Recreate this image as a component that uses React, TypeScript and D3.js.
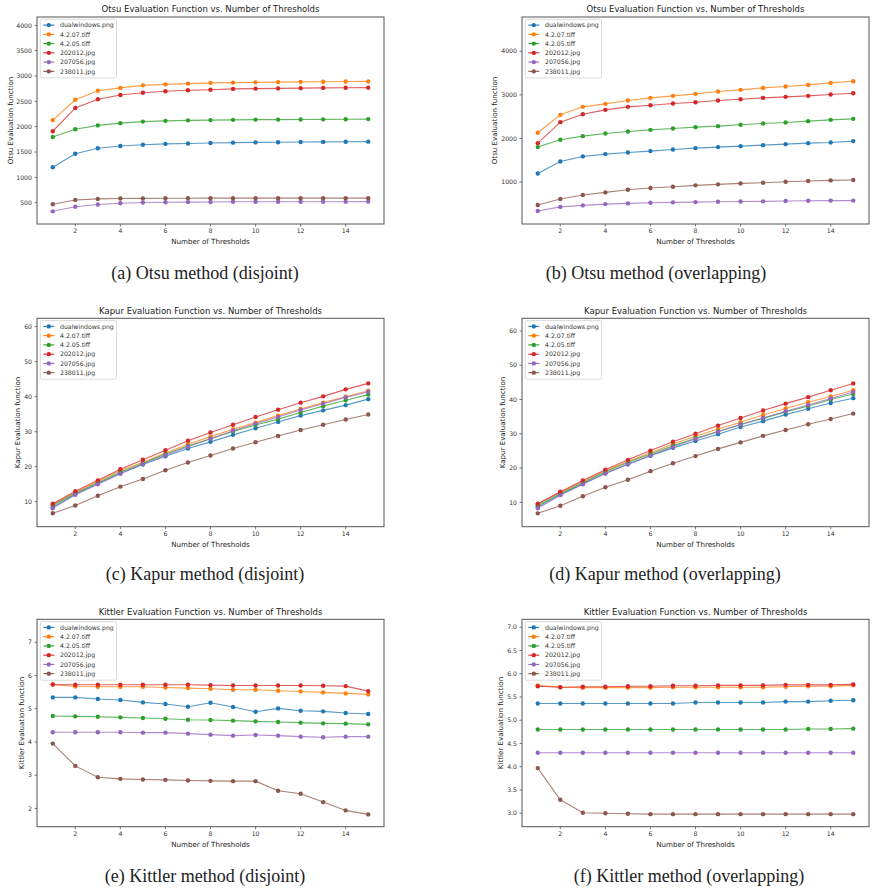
import React from "react";
import * as d3 from "d3";

const thresholds = [1, 2, 3, 4, 5, 6, 7, 8, 9, 10, 11, 12, 13, 14, 15];
const seriesNames = ["dualwindows.png", "4.2.07.tiff", "4.2.05.tiff", "202012.jpg", "207056.jpg", "238011.jpg"];
const seriesColors = ["#1f77b4", "#ff7f0e", "#2ca02c", "#d62728", "#9467bd", "#8c564b"];
const xTicks = [2, 4, 6, 8, 10, 12, 14];

const otsuDisjoint = [
  [1200, 1465, 1575, 1620, 1645, 1660, 1668, 1678, 1685, 1690, 1693, 1697, 1700, 1703, 1705],
  [2130, 2530, 2710, 2765, 2815, 2835, 2850, 2865, 2870, 2875, 2880, 2885, 2887, 2890, 2893],
  [1795, 1950, 2025, 2070, 2100, 2115, 2125, 2130, 2135, 2140, 2140, 2142, 2145, 2148, 2150],
  [1910, 2370, 2540, 2625, 2670, 2700, 2720, 2730, 2745, 2750, 2755, 2760, 2765, 2767, 2770],
  [330, 420, 465, 490, 505, 510, 512, 515, 518, 520, 520, 520, 520, 520, 522],
  [470, 555, 575, 582, 585, 588, 588, 590, 590, 590, 590, 590, 590, 590, 590],
];
const otsuOverlap = [
  [1198, 1473, 1588, 1641, 1679, 1710, 1748, 1779, 1802, 1824, 1847, 1870, 1893, 1908, 1939],
  [2130, 2542, 2725, 2794, 2870, 2931, 2977, 3023, 3076, 3115, 3160, 3191, 3229, 3275, 3313],
  [1802, 1969, 2053, 2115, 2160, 2198, 2229, 2260, 2282, 2313, 2344, 2366, 2397, 2427, 2450],
  [1893, 2374, 2557, 2656, 2725, 2763, 2802, 2832, 2870, 2901, 2931, 2954, 2977, 3008, 3038],
  [335, 430, 465, 495, 510, 525, 535, 540, 550, 555, 558, 565, 570, 575, 575],
  [473, 611, 702, 763, 824, 863, 893, 924, 947, 969, 985, 1008, 1023, 1038, 1046],
];
const kapurDisjoint = [
  [8.4, 12.1, 15.1, 18.1, 20.6, 23.0, 25.2, 27.1, 29.1, 31.0, 32.8, 34.6, 36.1, 37.6, 39.3],
  [9.2, 12.6, 15.8, 18.9, 21.3, 23.9, 26.4, 28.6, 30.7, 32.6, 34.6, 36.5, 38.3, 40.0, 41.7],
  [8.9, 12.4, 15.4, 18.5, 21.0, 23.6, 25.9, 28.0, 30.1, 31.9, 33.6, 35.5, 37.3, 39.0, 40.6],
  [9.4, 13.0, 16.1, 19.3, 22.0, 24.7, 27.4, 29.8, 32.0, 34.2, 36.3, 38.3, 40.1, 42.1, 43.8],
  [8.1, 12.0, 15.0, 18.0, 20.8, 23.3, 25.7, 28.0, 30.3, 32.3, 34.2, 36.2, 38.0, 39.8, 41.4],
  [6.7, 8.9, 11.7, 14.3, 16.5, 19.0, 21.2, 23.2, 25.2, 27.0, 28.8, 30.5, 32.0, 33.5, 34.9],
];
const kapurOverlap = [
  [8.7, 12.3, 15.4, 18.5, 21.1, 23.6, 25.9, 27.9, 29.9, 32.0, 33.7, 35.6, 37.3, 39.0, 40.4],
  [9.5, 12.9, 16.0, 19.2, 21.9, 24.5, 27.0, 29.3, 31.4, 33.4, 35.5, 37.4, 39.2, 40.9, 42.7],
  [9.1, 12.6, 15.7, 18.9, 21.6, 24.1, 26.5, 28.7, 30.7, 32.7, 34.5, 36.4, 38.1, 40.0, 41.6],
  [9.6, 13.1, 16.4, 19.5, 22.4, 25.1, 27.7, 30.0, 32.4, 34.6, 36.8, 38.8, 40.7, 42.7, 44.7],
  [8.3, 12.1, 15.3, 18.4, 21.1, 23.7, 26.2, 28.5, 30.6, 32.7, 34.6, 36.6, 38.4, 40.3, 42.2],
  [6.8, 9.0, 11.8, 14.4, 16.6, 19.1, 21.4, 23.5, 25.6, 27.5, 29.4, 31.1, 32.8, 34.3, 35.9],
];
const kittlerDisjoint = [
  [5.34, 5.34, 5.29, 5.26, 5.19, 5.14, 5.06, 5.18, 5.05, 4.91, 5.01, 4.94, 4.92, 4.87, 4.84],
  [5.73, 5.67, 5.66, 5.66, 5.66, 5.64, 5.62, 5.6, 5.57, 5.57, 5.54, 5.52, 5.49, 5.46, 5.43],
  [4.78, 4.77, 4.76, 4.74, 4.72, 4.7, 4.67, 4.66, 4.64, 4.62, 4.6, 4.58, 4.56, 4.55, 4.53],
  [5.73, 5.72, 5.72, 5.72, 5.72, 5.72, 5.72, 5.71, 5.7, 5.7, 5.7, 5.7, 5.69, 5.68, 5.53],
  [4.29, 4.29, 4.29, 4.29, 4.28, 4.28, 4.25, 4.22, 4.19, 4.21, 4.19, 4.16, 4.14, 4.16, 4.16],
  [3.95, 3.28, 2.94, 2.89, 2.87, 2.86, 2.84, 2.83, 2.82, 2.82, 2.53, 2.44, 2.19, 1.94, 1.82],
];
const kittlerOverlap = [
  [5.36, 5.36, 5.36, 5.36, 5.36, 5.36, 5.36, 5.38, 5.38, 5.38, 5.38, 5.4, 5.4, 5.42, 5.43],
  [5.75, 5.71, 5.7, 5.7, 5.7, 5.7, 5.71, 5.71, 5.71, 5.71, 5.71, 5.72, 5.73, 5.73, 5.75],
  [4.8, 4.8, 4.8, 4.8, 4.8, 4.8, 4.8, 4.8, 4.8, 4.8, 4.8, 4.8, 4.81, 4.81, 4.82],
  [5.73, 5.71, 5.72, 5.72, 5.73, 5.73, 5.74, 5.74, 5.75, 5.75, 5.75, 5.76, 5.76, 5.76, 5.77],
  [4.3, 4.3, 4.3, 4.3, 4.3, 4.3, 4.3, 4.3, 4.3, 4.3, 4.3, 4.3, 4.3, 4.3, 4.3],
  [3.97, 3.29, 3.01, 3.0, 2.99, 2.98, 2.98, 2.98, 2.98, 2.98, 2.98, 2.98, 2.98, 2.98, 2.98],
];

const otsuTicks = [500, 1000, 1500, 2000, 2500, 3000, 3500, 4000];
const otsuOverlapTicks = [1000, 2000, 3000, 4000];
const kapurTicks = [10, 20, 30, 40, 50, 60];
const kittlerTicks = [2, 3, 4, 5, 6, 7];
const kittlerOverlapTicks = [3.0, 3.5, 4.0, 4.5, 5.0, 5.5, 6.0, 6.5, 7.0];

const SANS = "DejaVu Sans, sans-serif";
const SERIF = "Liberation Serif, DejaVu Serif, serif";

type PanelSpec = {
  title: string;
  ylabel: string;
  caption: string;
  data: number[][];
  yDomain: [number, number];
  yTicks: number[];
  yFmt: (v: number) => string;
  left: number;
  right: number;
  top: number;
  bottom: number;
  ylabelX: number;
  captionX: number;
  captionY: number;
};

function Panel({ p }: { p: PanelSpec }) {
  const x = d3.scaleLinear().domain([0.3, 15.7]).range([p.left, p.right]);
  const y = d3.scaleLinear().domain(p.yDomain).range([p.bottom, p.top]);
  const line = d3
    .line<number>()
    .x((_, i) => x(thresholds[i]))
    .y((v) => y(v));
  const cx = (p.left + p.right) / 2;
  const cy = (p.top + p.bottom) / 2;
  const lx = p.left + 3.3;
  const ly = p.top + 2.3;
  return (
    <g>
      <text x={cx} y={p.top - 4.6} textAnchor="middle" fontFamily={SANS} fontSize={8.5} fill="#222">
        {p.title}
      </text>
      {p.data.map((vals, si) => (
        <g key={si}>
          <path d={line(vals) || ""} fill="none" stroke={seriesColors[si]} strokeWidth={1.1} strokeOpacity={0.75} />
          {vals.map((v, i) => (
            <circle key={i} cx={x(thresholds[i])} cy={y(v)} r={2.2} fill={seriesColors[si]} />
          ))}
        </g>
      ))}
      <rect x={p.left} y={p.top} width={p.right - p.left} height={p.bottom - p.top} fill="none" stroke="#555" strokeWidth={1} />
      {xTicks.map((t) => (
        <g key={t}>
          <line x1={x(t)} x2={x(t)} y1={p.bottom} y2={p.bottom + 2.5} stroke="#555" strokeWidth={0.8} />
          <text x={x(t)} y={p.bottom + 9.3} textAnchor="middle" fontFamily={SANS} fontSize={6.2} fill="#333">
            {t}
          </text>
        </g>
      ))}
      {p.yTicks.map((t) => (
        <g key={t}>
          <line x1={p.left - 2.5} x2={p.left} y1={y(t)} y2={y(t)} stroke="#555" strokeWidth={0.8} />
          <text x={p.left - 5} y={y(t) + 2.2} textAnchor="end" fontFamily={SANS} fontSize={6.2} fill="#333">
            {p.yFmt(t)}
          </text>
        </g>
      ))}
      <text x={cx} y={p.bottom + 20} textAnchor="middle" fontFamily={SANS} fontSize={7.1} fill="#222">
        Number of Thresholds
      </text>
      <text
        transform={`translate(${p.ylabelX + 2.5},${cy}) rotate(-90)`}
        textAnchor="middle"
        fontFamily={SANS}
        fontSize={7.1}
        fill="#222"
      >
        {p.ylabel}
      </text>
      <rect x={lx} y={ly} width={76.2} height={58.6} rx={1.5} fill="white" fillOpacity={0.85} stroke="#ccc" strokeWidth={0.7} />
      {seriesNames.map((name, si) => {
        const ry = ly + 5.8 + si * 9.25;
        return (
          <g key={name}>
            <line x1={lx + 3} x2={lx + 14} y1={ry} y2={ry} stroke={seriesColors[si]} strokeWidth={1.1} />
            <circle cx={lx + 8.5} cy={ry} r={2.2} fill={seriesColors[si]} />
            <text x={lx + 19.7} y={ry + 2.2} fontFamily={SANS} fontSize={6.2} fill="#333">
              {name}
            </text>
          </g>
        );
      })}
      <text x={p.captionX} y={p.captionY} textAnchor="middle" fontFamily={SERIF} fontSize={18} fill="#222">
        {p.caption}
      </text>
    </g>
  );
}

const intFmt = (v: number) => String(v);
const oneFmt = d3.format(".1f");

const panels: PanelSpec[] = [
  {
    title: "Otsu Evaluation Function vs. Number of Thresholds",
    ylabel: "Otsu Evaluation function",
    caption: "(a) Otsu method (disjoint)",
    data: otsuDisjoint,
    yDomain: [80, 4164],
    yTicks: otsuTicks,
    yFmt: intFmt,
    left: 37,
    right: 384,
    top: 17,
    bottom: 224,
    ylabelX: 10,
    captionX: 205,
    captionY: 279,
  },
  {
    title: "Otsu Evaluation Function vs. Number of Thresholds",
    ylabel: "Otsu Evaluation function",
    caption: "(b) Otsu method (overlapping)",
    data: otsuOverlap,
    yDomain: [38, 4786],
    yTicks: otsuOverlapTicks,
    yFmt: intFmt,
    left: 522,
    right: 869,
    top: 17,
    bottom: 224,
    ylabelX: 494.3,
    captionX: 656,
    captionY: 279,
  },
  {
    title: "Kapur Evaluation Function vs. Number of Thresholds",
    ylabel: "Kapur Evaluation function",
    caption: "(c) Kapur method (disjoint)",
    data: kapurDisjoint,
    yDomain: [2.86, 62.4],
    yTicks: kapurTicks,
    yFmt: intFmt,
    left: 37,
    right: 384,
    top: 318.3,
    bottom: 526.7,
    ylabelX: 17.3,
    captionX: 205,
    captionY: 580,
  },
  {
    title: "Kapur Evaluation Function vs. Number of Thresholds",
    ylabel: "Kapur Evaluation function",
    caption: "(d) Kapur method (overlapping)",
    data: kapurOverlap,
    yDomain: [2.9, 63.7],
    yTicks: kapurTicks,
    yFmt: intFmt,
    left: 522,
    right: 869,
    top: 318.3,
    bottom: 526.7,
    ylabelX: 502.7,
    captionX: 665,
    captionY: 580,
  },
  {
    title: "Kittler Evaluation Function vs. Number of Thresholds",
    ylabel: "Kittler Evaluation function",
    caption: "(e) Kittler method (disjoint)",
    data: kittlerDisjoint,
    yDomain: [1.45, 7.69],
    yTicks: kittlerTicks,
    yFmt: intFmt,
    left: 37,
    right: 384,
    top: 619.3,
    bottom: 826.7,
    ylabelX: 21,
    captionX: 205,
    captionY: 882,
  },
  {
    title: "Kittler Evaluation Function vs. Number of Thresholds",
    ylabel: "Kittler Evaluation function",
    caption: "(f) Kittler method (overlapping)",
    data: kittlerOverlap,
    yDomain: [2.71, 7.17],
    yTicks: kittlerOverlapTicks,
    yFmt: oneFmt,
    left: 522,
    right: 869,
    top: 619.3,
    bottom: 826.7,
    ylabelX: 500.3,
    captionX: 689,
    captionY: 882,
  },
];

export default function App() {
  return (
    <svg
      width={876}
      height={892}
      viewBox="0 0 876 892"
      style={{ position: "absolute", left: 0, top: 0, background: "white" }}
    >
      <rect x={0} y={0} width={876} height={892} fill="white" />
      {panels.map((p, i) => (
        <Panel key={i} p={p} />
      ))}
    </svg>
  );
}
